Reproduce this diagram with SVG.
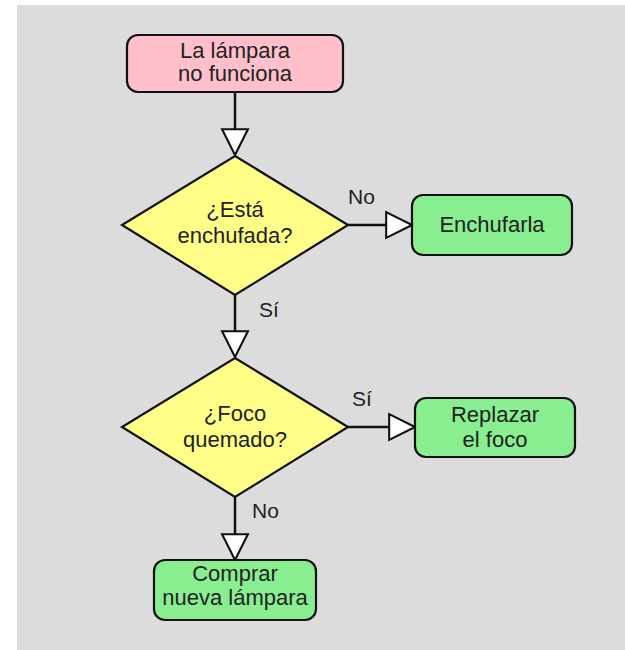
<svg xmlns="http://www.w3.org/2000/svg" width="625" height="650" viewBox="0 0 625 650">
<style>
.n{stroke:#111;stroke-width:2.2}
.t{font-family:"Liberation Sans",Arial,sans-serif;font-size:22px;fill:#222;text-anchor:middle}
.l{font-family:"Liberation Sans",Arial,sans-serif;font-size:21px;fill:#222}
.c{stroke:#111;stroke-width:2.5;fill:none;marker-end:url(#ah)}
</style>
<defs>
<marker id="ah" markerUnits="userSpaceOnUse" markerWidth="30" markerHeight="30" viewBox="-2 -2 29 29" refX="24" refY="12.5" orient="auto">
<path d="M0,0 L25,12.5 L0,25 Z" fill="#fff" stroke="#111" stroke-width="2"/>
</marker>
</defs>
<rect x="17" y="5" width="608" height="645" fill="#dcdcdc"/>
<g id="connectors">
<line class="c" x1="235" y1="93" x2="235" y2="154"/>
<line class="c" x1="348" y1="225" x2="411" y2="225"/>
<line class="c" x1="235" y1="295" x2="235" y2="356"/>
<line class="c" x1="348" y1="427" x2="414" y2="427"/>
<line class="c" x1="235" y1="497" x2="235" y2="559"/>
<text class="l" x="348" y="204">No</text>
<text class="l" x="259" y="317">Sí</text>
<text class="l" x="352" y="406">Sí</text>
<text class="l" x="252" y="518">No</text>
</g>
<g id="start">
<rect class="n" x="127" y="35" width="216" height="57" rx="11" fill="#ffc0cb"/>
<text class="t" x="235" y="58">La lámpara</text>
<text class="t" x="235" y="81">no funciona</text>
</g>
<g id="q1">
<polygon class="n" points="235,156 348,225 235,295 122,225" fill="#ffff88"/>
<text class="t" x="235" y="217">¿Está</text>
<text class="t" x="235" y="243">enchufada?</text>
</g>
<g id="plug">
<rect class="n" x="412" y="195" width="160" height="60" rx="11" fill="#88ee90"/>
<text class="t" x="492" y="232">Enchufarla</text>
</g>
<g id="q2">
<polygon class="n" points="235,358 348,427 235,497 122,427" fill="#ffff88"/>
<text class="t" x="235" y="421">¿Foco</text>
<text class="t" x="235" y="447">quemado?</text>
</g>
<g id="replace">
<rect class="n" x="415" y="398" width="160" height="59" rx="11" fill="#88ee90"/>
<text class="t" x="495" y="422">Replazar</text>
<text class="t" x="495" y="447">el foco</text>
</g>
<g id="buy">
<rect class="n" x="154" y="560" width="162" height="60" rx="11" fill="#88ee90"/>
<text class="t" x="235" y="581">Comprar</text>
<text class="t" x="235" y="605">nueva lámpara</text>
</g>
</svg>
